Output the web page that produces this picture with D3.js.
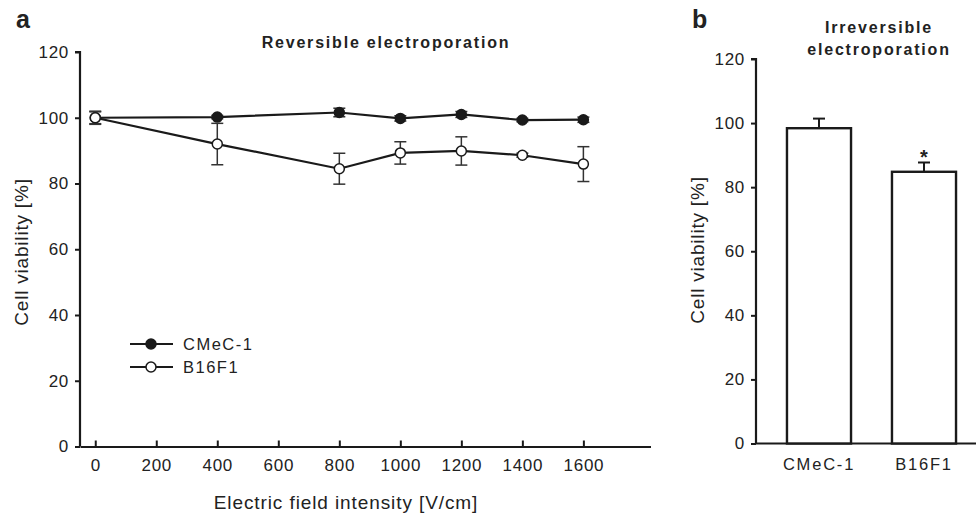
<!DOCTYPE html>
<html>
<head>
<meta charset="utf-8">
<script src="https://cdn.jsdelivr.net/npm/d3@7"></script>
<style>
  body { margin: 0; background: #fff; }
  text { font-family: "Liberation Sans", Arial, sans-serif; fill: #222; }
</style>
</head>
<body>
<div id="chart"></div>
<script>
// DATA ---------------------------------------------------------------
const fieldIntensity = [0, 400, 800, 1000, 1200, 1400, 1600];
const cmecMean = [100, 100.2, 101.6, 99.8, 101, 99.3, 99.4];
const cmecErr = [1.8, 0.5, 1.3, 0.8, 0.9, 0.5, 0.8];
const b16Mean = [100, 92, 84.5, 89.3, 89.9, 88.6, 85.9];
const b16Err = [2, 6.3, 4.7, 3.4, 4.3, 0.6, 5.3];
const xTicks = [0, 200, 400, 600, 800, 1000, 1200, 1400, 1600];
const yTicks = [0, 20, 40, 60, 80, 100, 120];

const barCategories = ["CMeC-1", "B16F1"];
const barMean = [98.4, 84.8];
const barErr = [3.0, 2.9];
const barSignif = [false, true];

// SETUP --------------------------------------------------------------
const width = 976, height = 513;
const ink = "#1a1a1a";
const fmt = d3.format("d");

const svg = d3.select("#chart").append("svg")
    .attr("width", width)
    .attr("height", height);

const styleAxis = (ax) => {
    ax.select(".domain").attr("stroke", ink).attr("stroke-width", 2.2);
    ax.selectAll(".tick line").attr("stroke", ink).attr("stroke-width", 2);
    ax.selectAll(".tick text").attr("font-size", 17).attr("letter-spacing", 0.7).attr("fill", "#222");
};

// PANEL A ------------------------------------------------------------
const xA = d3.scaleLinear().domain([-50, 1820]).range([80, 650.5]);
const yA = d3.scaleLinear().domain([0, 120]).range([446.5, 52]);

const gA = svg.append("g").attr("class", "panel-a");

// y axis
const yAxisA = gA.append("g")
    .attr("transform", `translate(${xA.range()[0]},0)`)
    .call(d3.axisLeft(yA).tickValues(yTicks).tickFormat(fmt).tickSize(5).tickPadding(6));
// x axis (ticks pointing up)
const xAxisA = gA.append("g")
    .attr("transform", `translate(0,${yA(0)})`)
    .call(d3.axisBottom(xA).tickValues(xTicks).tickFormat(fmt).tickSizeInner(-6).tickSizeOuter(0).tickPadding(12));

styleAxis(yAxisA);
styleAxis(xAxisA);
yAxisA.select(".domain").attr("d", `M-5,${yA(120)}H0V${yA(0)}`);

// axis titles
gA.append("text")
    .attr("x", 346).attr("y", 509)
    .attr("text-anchor", "middle")
    .attr("font-size", 19).attr("letter-spacing", 0.9)
    .text("Electric field intensity [V/cm]");
gA.append("text")
    .attr("transform", `translate(28,252) rotate(-90)`)
    .attr("text-anchor", "middle")
    .attr("font-size", 19).attr("letter-spacing", 0.8)
    .text("Cell viability [%]");
gA.append("text")
    .attr("x", 386).attr("y", 48)
    .attr("text-anchor", "middle")
    .attr("font-size", 16).attr("font-weight", "bold").attr("letter-spacing", 1.8)
    .text("Reversible electroporation");
gA.append("text")
    .attr("x", 16).attr("y", 28)
    .attr("font-size", 25).attr("font-weight", "bold")
    .text("a");

// series
const series = [
    { name: "CMeC-1", mean: cmecMean, err: cmecErr, fill: ink },
    { name: "B16F1", mean: b16Mean, err: b16Err, fill: "#fff" }
];
const line = d3.line().x(d => xA(d.x)).y(d => yA(d.y));
const capW = 6;

series.forEach(s => {
    const pts = fieldIntensity.map((x, i) => ({ x, y: s.mean[i], e: s.err[i] }));
    const g = gA.append("g").attr("class", `series-${s.name}`);

    g.append("path").datum(pts)
        .attr("d", line)
        .attr("fill", "none").attr("stroke", ink).attr("stroke-width", 2.2);

    const eb = g.selectAll(".err").data(pts).enter().append("g").attr("class", "err")
        .attr("stroke", "#333").attr("stroke-width", 1.5);
    eb.append("line")
        .attr("x1", d => xA(d.x)).attr("x2", d => xA(d.x))
        .attr("y1", d => yA(d.y - d.e)).attr("y2", d => yA(d.y + d.e));
    eb.append("line")
        .attr("x1", d => xA(d.x) - capW).attr("x2", d => xA(d.x) + capW)
        .attr("y1", d => yA(d.y + d.e)).attr("y2", d => yA(d.y + d.e));
    eb.append("line")
        .attr("x1", d => xA(d.x) - capW).attr("x2", d => xA(d.x) + capW)
        .attr("y1", d => yA(d.y - d.e)).attr("y2", d => yA(d.y - d.e));

    g.selectAll("circle").data(pts).enter().append("circle")
        .attr("cx", d => xA(d.x)).attr("cy", d => yA(d.y))
        .attr("r", 5)
        .attr("fill", s.fill).attr("stroke", ink).attr("stroke-width", 1.5);
});

// legend
const legend = gA.append("g").attr("class", "legend");
series.forEach((s, i) => {
    const ly = 344 + i * 23;
    legend.append("line").attr("x1", 130).attr("x2", 173).attr("y1", ly).attr("y2", ly)
        .attr("stroke", ink).attr("stroke-width", 2.2);
    legend.append("circle").attr("cx", 151).attr("cy", ly).attr("r", 5)
        .attr("fill", s.fill).attr("stroke", ink).attr("stroke-width", 1.5);
    legend.append("text").attr("x", 183).attr("y", ly + 6)
        .attr("font-size", 16.5).attr("letter-spacing", 1.5)
        .text(s.name);
});

// PANEL B ------------------------------------------------------------
const xB = d3.scaleBand().domain(barCategories).range([756, 987])
    .paddingInner(0.39).paddingOuter(0.295);
const yB = d3.scaleLinear().domain([0, 120]).range([443.5, 59]);

const gB = svg.append("g").attr("class", "panel-b");

const yAxisB = gB.append("g")
    .attr("transform", `translate(756,0)`)
    .call(d3.axisLeft(yB).tickValues(yTicks).tickFormat(fmt).tickSize(5).tickPadding(6));
const xAxisB = gB.append("g")
    .attr("transform", `translate(0,${yB(0)})`)
    .call(d3.axisBottom(xB).tickSize(0).tickPadding(15));
styleAxis(yAxisB);
styleAxis(xAxisB);
yAxisB.select(".domain").attr("d", `M-5,${yB(120)}H0V${yB(0)}`);
xAxisB.select(".domain").attr("d", `M756,0H987`);
xAxisB.selectAll(".tick text").attr("font-size", 16.5).attr("letter-spacing", 1.8);

const bars = barCategories.map((c, i) => ({ c, m: barMean[i], e: barErr[i], s: barSignif[i] }));

gB.selectAll(".bar").data(bars).enter().append("rect")
    .attr("class", "bar")
    .attr("x", d => xB(d.c)).attr("width", xB.bandwidth())
    .attr("y", d => yB(d.m)).attr("height", d => yB(0) - yB(d.m))
    .attr("fill", "#fff").attr("stroke", ink).attr("stroke-width", 2.4);

const ebB = gB.selectAll(".berr").data(bars).enter().append("g").attr("class", "berr")
    .attr("stroke", ink).attr("stroke-width", 2);
ebB.append("line")
    .attr("x1", d => xB(d.c) + xB.bandwidth() / 2).attr("x2", d => xB(d.c) + xB.bandwidth() / 2)
    .attr("y1", d => yB(d.m)).attr("y2", d => yB(d.m + d.e));
ebB.append("line")
    .attr("x1", d => xB(d.c) + xB.bandwidth() / 2 - 6).attr("x2", d => xB(d.c) + xB.bandwidth() / 2 + 6)
    .attr("y1", d => yB(d.m + d.e)).attr("y2", d => yB(d.m + d.e));

gB.selectAll(".star").data(bars.filter(d => d.s)).enter().append("text")
    .attr("class", "star")
    .attr("x", d => xB(d.c) + xB.bandwidth() / 2).attr("y", d => yB(d.m + d.e) + 2)
    .attr("text-anchor", "middle")
    .attr("font-size", 20).attr("font-weight", "bold")
    .text("*");

gB.append("text")
    .attr("transform", `translate(704,250) rotate(-90)`)
    .attr("text-anchor", "middle")
    .attr("font-size", 19).attr("letter-spacing", 0.8)
    .text("Cell viability [%]");
const titleB = gB.append("text")
    .attr("text-anchor", "middle")
    .attr("font-size", 16).attr("font-weight", "bold").attr("letter-spacing", 1.8);
titleB.append("tspan").attr("x", 879).attr("y", 33).text("Irreversible");
titleB.append("tspan").attr("x", 879).attr("y", 55).text("electroporation");
gB.append("text")
    .attr("x", 692).attr("y", 28)
    .attr("font-size", 25).attr("font-weight", "bold")
    .text("b");
</script>
</body>
</html>
